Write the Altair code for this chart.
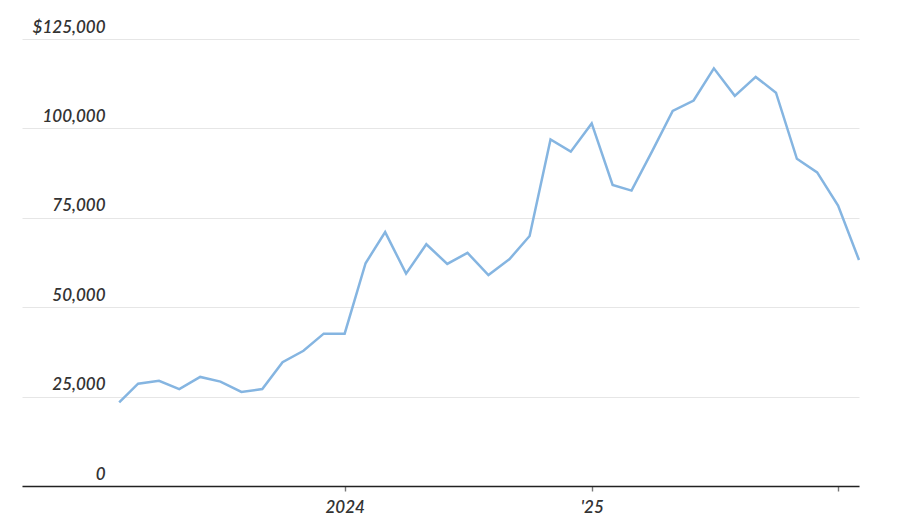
import altair as alt
import pandas as pd

months = [
    "2023-02-01", "2023-03-01", "2023-04-01", "2023-05-01", "2023-06-01", "2023-07-01",
    "2023-08-01", "2023-09-01", "2023-10-01", "2023-11-01", "2023-12-01", "2024-01-01",
    "2024-02-01", "2024-03-01", "2024-04-01", "2024-05-01", "2024-06-01", "2024-07-01",
    "2024-08-01", "2024-09-01", "2024-10-01", "2024-11-01", "2024-12-01", "2025-01-01",
    "2025-02-01", "2025-03-01", "2025-04-01", "2025-05-01", "2025-06-01", "2025-07-01",
    "2025-08-01", "2025-09-01", "2025-10-01", "2025-11-01", "2025-12-01", "2026-01-01",
    "2026-02-01",
]
prices = [
    23400, 28600, 29400, 27100, 30500, 29200,
    26300, 27100, 34600, 37800, 42600, 42600,
    62300, 71000, 59400, 67600, 62100, 65200,
    59000, 63400, 69900, 96900, 93500, 101400,
    84200, 82600, 93800, 104900, 107800, 116800,
    109100, 114400, 110000, 91500, 87700, 78400,
    63200,
]
y_ticks = [0, 25000, 50000, 75000, 100000, 125000]

df = pd.DataFrame({"date": [m + "T00:00:00" for m in months], "price": prices})

font = "Lato"

chart = (
    alt.Chart(df)
    .mark_line(color="#85b5e1", strokeWidth=2.5)
    .encode(
        x=alt.X(
            "date:T",
            title=None,
            scale=alt.Scale(
                domain=[
                    alt.DateTime(year=2022, month=9, date=10),
                    alt.DateTime(year=2026, month=2, date=1),
                ]
            ),
            axis=alt.Axis(
                values=[alt.DateTime(year=2024, month=1, date=1),
                        alt.DateTime(year=2025, month=1, date=1),
                        alt.DateTime(year=2026, month=1, date=1)],
                labelExpr="year(datum.value) == 2024 ? '2024' : (year(datum.value) == 2025 ? \"'25\" : '')",
                grid=False,
                domainColor="#222222",
                domainWidth=1.4,
                tickColor="#777777",
                tickSize=5,
                tickWidth=1.4,
                labelPadding=8,
                labelFont=font,
                labelFontSize=17,
                labelFontStyle="italic",
                labelFontWeight=600,
                labelColor="#333333",
                labelFlush=False,
                labelOverlap=False,
            ),
        ),
        y=alt.Y(
            "price:Q",
            title=None,
            scale=alt.Scale(domain=[0, 125000], nice=False),
            axis=alt.Axis(
                values=y_ticks,
                labelExpr="datum.value == 125000 ? '$125,000' : format(datum.value, ',')",
                domain=False,
                ticks=False,
                tickSize=0,
                grid=True,
                gridColor="#e6e6e6",
                gridWidth=1,
                labelAlign="right",
                labelBaseline="alphabetic",
                labelPadding=-83,
                labelOffset=-7,
                labelFont=font,
                labelFontSize=17,
                labelFontStyle="italic",
                labelFontWeight=600,
                labelColor="#333333",
                labelFlush=False,
                labelOverlap=False,
                labelBound=False,
            ),
        ),
    )
    .properties(
        width=837,
        height=447,
        background="white",
        autosize=alt.AutoSizeParams(type="none"),
        padding={"left": 14, "top": 31, "right": 20, "bottom": 30},
    )
    .configure_view(stroke="transparent", strokeWidth=0)
)

chart.save("out.html", embed_options={"renderer": "svg", "actions": False})
